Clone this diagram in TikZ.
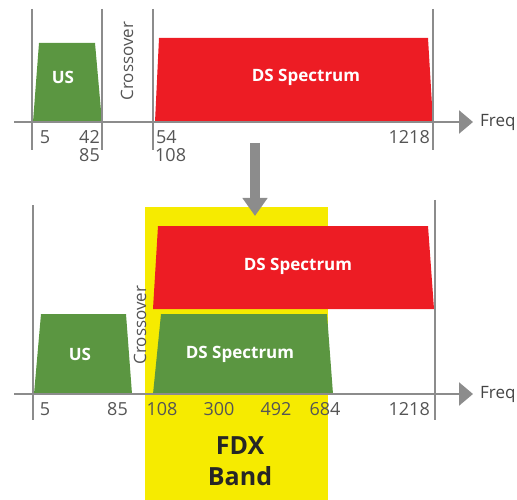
\documentclass[tikz,border=0pt]{standalone}
\usepackage{fontspec}
\setmainfont{Open Sans}
\usetikzlibrary{arrows.meta}
\definecolor{axisgray}{HTML}{8C8C8C}
\definecolor{labgray}{HTML}{555555}
\definecolor{usgreen}{HTML}{5B9641}
\definecolor{dsred}{HTML}{ED1C24}
\definecolor{fdxyellow}{HTML}{F6EB00}
\tikzset{
  axisline/.style={draw=axisgray,line width=2.5pt},
  axisarrow/.style={axisline,-{Triangle[length=14pt,width=23pt]}},
  bandtext/.style={text=white,font=\fontsize{17}{20}\selectfont\bfseries},
  lab/.style={text=labgray,font=\fontsize{18}{20}\selectfont,inner sep=0pt},
  freqlab/.style={text=labgray!80!black,font=\fontsize{17}{20}\selectfont,inner sep=0pt,anchor=west},
  xover/.style={text=labgray,font=\fontsize{17}{20}\selectfont,rotate=90,inner sep=0pt},
}
\begin{document}
\begin{tikzpicture}[x=1pt,y=-1pt]
\useasboundingbox (0,0) rectangle (517,500);
% yellow FDX band
\fill[fdxyellow] (145,207) rectangle (328,500);
\node[text=black!85,font=\fontsize{25}{31}\selectfont\bfseries,align=center] (fdx) at (240,461) {FDX\\Band};

% ---------- top panel ----------
\fill[usgreen] (33,122) -- (39,43) -- (95,43) -- (102,122) -- cycle;
\node[bandtext] (us1) at (63,77) {US};
\fill[dsred] (155,122) -- (159,38) -- (428,38) -- (433,122) -- cycle;
\node[bandtext] (ds1) at (306,77) {DS Spectrum};
\node[xover] (xo1) at (127,61) {Crossover};

\coordinate (a1s) at (14,122);
\coordinate (a1e) at (473,122);
\foreach \n/\x in {v1a/32,v1b/102,v1c/153,v1d/433}{
  \coordinate (\n t) at (\x,9);
  \coordinate (\n b) at (\x,150);
  \draw[axisline] (\n t) -- (\n b);
}
\draw[axisarrow] (a1s) -- (a1e);
\node[freqlab] (freq1) at (480,122) {Freq};
\node[lab] (l5a) at (45,137) {5};
\node[lab,anchor=east] (l42) at (100,137) {42};
\node[lab,anchor=east] (l85a) at (100,155) {85};
\node[lab,anchor=west] (l54) at (156,137) {54};
\node[lab,anchor=west] (l108a) at (155,155) {108};
\node[lab,anchor=east] (l1218a) at (430,137) {1218};

% ---------- down arrow ----------
\coordinate (da1) at (255,143);
\coordinate (da2) at (255,216);
\draw[draw=axisgray,line width=10pt,-{Triangle[length=18pt,width=24pt]}] (da1) -- (da2);

% ---------- bottom panel ----------
\fill[dsred] (153,309) -- (158,226) -- (428,226) -- (434,309) -- cycle;
\node[bandtext] (ds2) at (298,266) {DS Spectrum};
\fill[usgreen] (153,394) -- (161,314) -- (327,314) -- (333,394) -- cycle;
\node[bandtext] (ds3) at (240,354) {DS Spectrum};
\fill[usgreen] (34,394) -- (41,314) -- (126,314) -- (132,394) -- cycle;
\node[bandtext] (us2) at (80,354) {US};
\node[xover] (xo2) at (140,325) {Crossover};

\coordinate (v2at) at (33,205);
\coordinate (v2ab) at (33,420);
\coordinate (v2bt) at (435,200);
\coordinate (v2bb) at (435,420);
\draw[axisline] (v2at) -- (v2ab);
\draw[axisline] (v2bt) -- (v2bb);
\coordinate (a2s) at (14,394);
\coordinate (a2e) at (473,394);
\draw[axisarrow] (a2s) -- (a2e);
\node[freqlab] (freq2) at (480,394) {Freq};
\node[lab] (l5b) at (45,409) {5};
\node[lab,anchor=east] (l85b) at (128,409) {85};
\node[lab] (l108b) at (162,409) {108};
\node[lab] (l300) at (219,409) {300};
\node[lab] (l492) at (276,409) {492};
\node[lab] (l684) at (325,409) {684};
\node[lab,anchor=east] (l1218b) at (430,409) {1218};
\end{tikzpicture}
\end{document}
